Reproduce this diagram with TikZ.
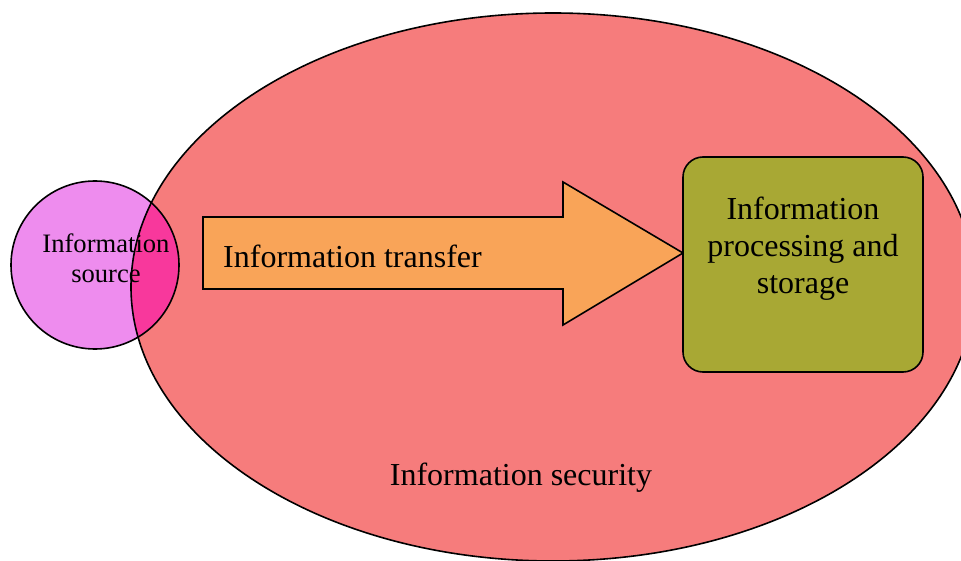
\documentclass[tikz,border=0pt]{standalone}
\usepackage{fontspec}
\setmainfont{Liberation Serif}
\definecolor{secred}{HTML}{F67C7C}
\definecolor{srcpink}{HTML}{EE8CEE}
\definecolor{mixpink}{HTML}{F8389C}
\definecolor{xferorange}{HTML}{F9A458}
\definecolor{procolive}{HTML}{A8A834}
\usetikzlibrary{positioning}

\begin{document}
\begin{tikzpicture}[x=1pt,y=-1pt,
  lbl/.style={inner sep=0pt,font=\fontsize{32}{37}\selectfont},
  srclbl/.style={inner sep=0pt,align=center,font=\fontsize{26.6}{30}\selectfont},
  edge/.style={draw=black,line width=1.6pt},
  procbox/.style={edge,fill=procolive,rounded corners=20,
    minimum width=240,minimum height=215,inner sep=0pt}]
\useasboundingbox (0,0) rectangle (961,561);
\clip (0,0) rectangle (961,561);
% security area and information source, overlap in deep pink
\fill[secred] (553,287) ellipse [x radius=422,y radius=274];
\fill[srcpink] (95,265) circle [radius=84];
\begin{scope}
  \clip (95,265) circle [radius=84];
  \fill[mixpink] (553,287) ellipse [x radius=422,y radius=274];
\end{scope}
\draw[edge] (553,287) ellipse [x radius=422,y radius=274];
\draw[edge] (95,265) circle [radius=84];
\node[srclbl] (source) at (106,258) {Information\\source};
% transfer arrow
\draw[edge,fill=xferorange,line join=miter]
  (203,217) -- (563,217) -- (563,182) -- (683,253)
  -- (563,325) -- (563,289) -- (203,289) -- cycle;
\node[lbl,anchor=base west] (transfer) at (223,268) {Information transfer};
% processing and storage
\node[procbox] (proc) at (803,264.5) {};
\node[lbl,align=center,anchor=north] (proctext) at ([yshift=-41pt]proc.north)
  {Information\\processing and\\storage};
\node[lbl,anchor=base] (security) at (521,485) {Information security};
\end{tikzpicture}
\end{document}
